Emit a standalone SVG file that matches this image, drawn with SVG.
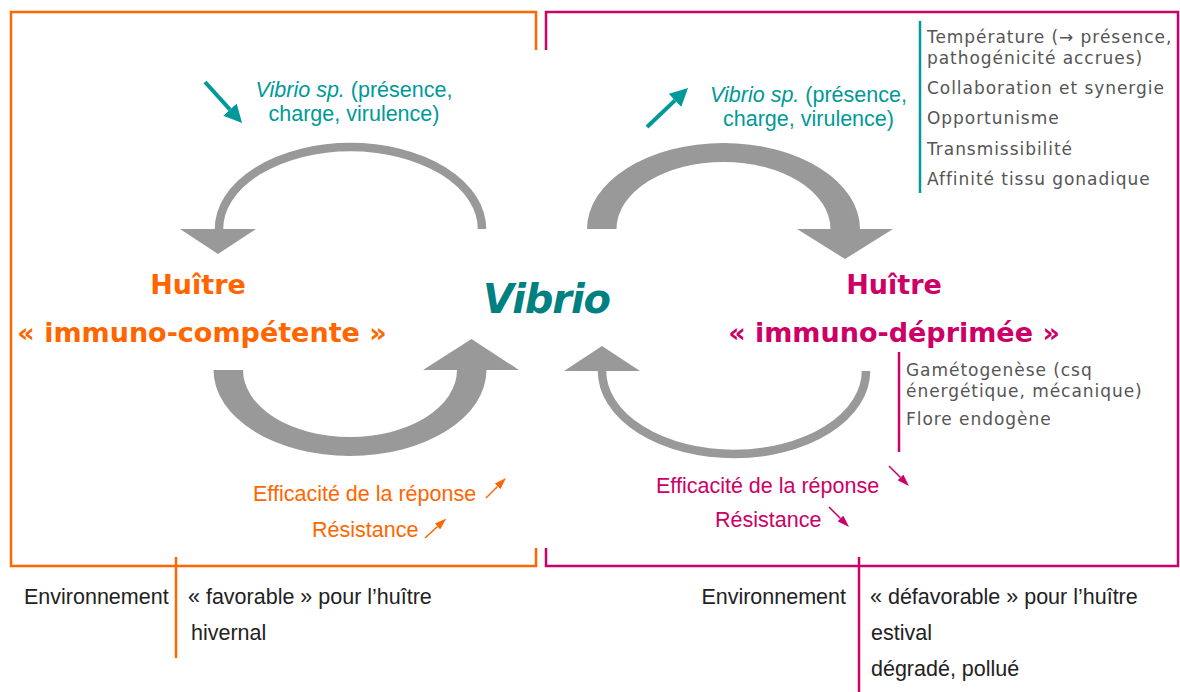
<svg xmlns="http://www.w3.org/2000/svg" width="1180" height="692" viewBox="0 0 1180 692">
<style>
.ar{font-family:"Liberation Sans",Arial,sans-serif;font-size:21.5px}
.teal{fill:#009999}
.or{fill:#FF6600}
.pk{fill:#CC0066}
.blk{fill:#222222}
.title{font-family:"DejaVu Sans",Verdana,sans-serif;font-weight:bold;font-size:27px;text-anchor:middle}
.list{font-family:"DejaVu Sans",Verdana,sans-serif;font-size:17px;fill:#555555;letter-spacing:0.95px}
.gray{fill:#999999}
.thin{fill:none;stroke:#999999;stroke-width:8.5}
</style>
<defs>
<marker id="hTeal" markerWidth="18" markerHeight="18" refX="0" refY="9" orient="auto" markerUnits="userSpaceOnUse"><path d="M0,0 L18,9 L0,18 Z" fill="#009999"/></marker>
<marker id="hOr" markerWidth="12" markerHeight="8" refX="0" refY="4" orient="auto" markerUnits="userSpaceOnUse"><path d="M0,0 L12,4 L0,8 Z" fill="#FF6600"/></marker>
<marker id="hPk" markerWidth="12" markerHeight="8" refX="0" refY="4" orient="auto" markerUnits="userSpaceOnUse"><path d="M0,0 L12,4 L0,8 Z" fill="#CC0066"/></marker>
</defs>
<rect width="1180" height="692" fill="#ffffff"/>

<g id="frame-left">
<path d="M536 50 V12 H11 V566 H536 V548" fill="none" stroke="#FF6600" stroke-width="2.5"/>
<line x1="176" y1="557" x2="176" y2="658" stroke="#FF6600" stroke-width="2.5"/>
</g>
<g id="frame-right">
<path d="M546 50 V12 H1178 V566 H546 V548" fill="none" stroke="#CC0066" stroke-width="2.5"/>
<line x1="859" y1="557" x2="859" y2="692" stroke="#CC0066" stroke-width="2.5"/>
</g>

<g id="node-vibrio">
<text x="547" y="313" font-family="DejaVu Sans, Verdana, sans-serif" font-weight="bold" font-style="italic" font-size="40" fill="#008080" text-anchor="middle" textLength="128">Vibrio</text>
</g>

<g id="node-huitre-competente">
<text class="title or" x="198" y="294">Huître</text>
<text class="title or" x="202" y="342">« immuno-compétente »</text>
</g>

<g id="node-huitre-deprimee">
<text class="title pk" x="894" y="294">Huître</text>
<text class="title pk" x="894" y="342">« immuno-déprimée »</text>
</g>

<g id="label-vibrio-left">
<text class="ar teal" x="354" y="97" text-anchor="middle"><tspan font-style="italic">Vibrio sp.</tspan> (présence,</text>
<text class="ar teal" x="354" y="121" text-anchor="middle">charge, virulence)</text>
</g>

<g id="label-vibrio-right">
<text class="ar teal" x="808.5" y="102" text-anchor="middle"><tspan font-style="italic">Vibrio sp.</tspan> (présence,</text>
<text class="ar teal" x="808.5" y="126" text-anchor="middle">charge, virulence)</text>
</g>

<g id="list-vibrio">
<line x1="920" y1="21" x2="920" y2="193" stroke="#009999" stroke-width="2.5"/>
<text class="list" x="927" y="43">Température (→ présence,</text>
<text class="list" x="927" y="64">pathogénicité accrues)</text>
<text class="list" x="927" y="94">Collaboration et synergie</text>
<text class="list" x="927" y="124">Opportunisme</text>
<text class="list" x="927" y="155">Transmissibilité</text>
<text class="list" x="927" y="185">Affinité tissu gonadique</text>
</g>

<g id="list-huitre">
<line x1="899" y1="352" x2="899" y2="452" stroke="#CC0066" stroke-width="2.5"/>
<text class="list" x="906" y="376">Gamétogenèse (csq</text>
<text class="list" x="906" y="397">énergétique, mécanique)</text>
<text class="list" x="906" y="425">Flore endogène</text>
</g>

<g id="label-reponse-left">
<text class="ar or" x="253" y="501">Efficacité de la réponse</text>
<text class="ar or" x="312" y="537">Résistance</text>
</g>

<g id="label-reponse-right">
<text class="ar pk" x="656" y="493">Efficacité de la réponse</text>
<text class="ar pk" x="715" y="527">Résistance</text>
</g>

<g id="env-left">
<text class="ar blk" x="24" y="604">Environnement</text>
<text class="ar blk" x="188" y="604">« favorable » pour l’huître</text>
<text class="ar blk" x="191" y="640">hivernal</text>
</g>

<g id="env-right">
<text class="ar blk" x="846" y="604" text-anchor="end">Environnement</text>
<text class="ar blk" x="870" y="604">« défavorable » pour l’huître</text>
<text class="ar blk" x="871" y="640">estival</text>
<text class="ar blk" x="871" y="676">dégradé, pollué</text>
</g>

<g id="connectors">
<path class="thin" d="M482 229 A131.5 82 0 0 0 219 229"/>
<polygon class="gray" points="180,229 256,229 218,254"/>
<path class="gray" d="M213.5 370 A136.5 86 0 0 0 486.5 370 L457 370 A107 67 0 0 1 243 370 Z"/>
<polygon class="gray" points="423,370 519,370 471.5,339"/>
<path class="gray" d="M587 229 A136.5 86 0 0 1 860 229 L830.5 229 A107 67 0 0 0 616.5 229 Z"/>
<polygon class="gray" points="797,229 893,229 845,259"/>
<path class="thin" d="M866 371 A132 83 0 0 1 602 371"/>
<polygon class="gray" points="564,371 640,371 602,346"/>
<line x1="205" y1="82" x2="230" y2="109.6" stroke="#009999" stroke-width="4" marker-end="url(#hTeal)"/>
<line x1="647" y1="127" x2="675" y2="100.4" stroke="#009999" stroke-width="4" marker-end="url(#hTeal)"/>
<line x1="486" y1="498" x2="497.5" y2="486.5" stroke="#FF6600" stroke-width="1.5" marker-end="url(#hOr)"/>
<line x1="425" y1="538" x2="437.5" y2="526.5" stroke="#FF6600" stroke-width="1.5" marker-end="url(#hOr)"/>
<line x1="889" y1="466" x2="900.5" y2="477.5" stroke="#CC0066" stroke-width="1.5" marker-end="url(#hPk)"/>
<line x1="829" y1="507" x2="840.5" y2="518.5" stroke="#CC0066" stroke-width="1.5" marker-end="url(#hPk)"/>
</g>
</svg>
